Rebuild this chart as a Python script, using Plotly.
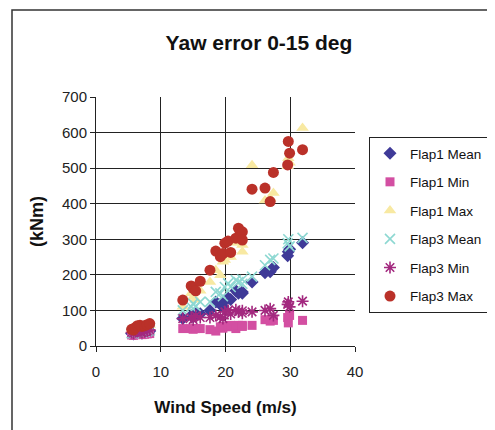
import plotly.graph_objects as go

wind = [5.5, 5.8, 6.1, 6.4, 6.8, 7.1, 7.5, 7.9, 8.3,
        13.4, 14.7, 15.0, 15.4, 16.1, 17.6, 18.5, 19.2, 19.6, 19.9, 20.4, 20.8,
        21.6, 22.0, 22.6, 22.6, 24.1, 26.1, 26.9, 27.4, 29.6, 29.7, 29.9, 31.9]

flap1_mean = [35, 34, 36, 38, 38, 36, 38, 40, 42,
              77, 86, 82, 91, 91, 100, 124, 117, 112, 129, 135, 131,
              155, 148, 152, 148, 180, 206, 209, 221, 254, 265, 272, 290]
flap1_min = [31, 30, 32, 33, 33, 32, 33, 34, 35,
             49, 49, 47, 49, 49, 46, 42, 54, 50, 55, 54, 58,
             49, 58, 58, 55, 58, 74, 70, 72, 80, 65, 86, 72]
flap1_max = [44, 42, 48, 52, 54, 50, 52, 55, 58,
             110, 148, 138, 130, 155, 180, 213, 199, 237, 242, 251, 250,
             291, 290, 284, 265, 508, 409, 415, 430, 505, 528, 515, 613]
flap3_mean = [36, 35, 38, 40, 40, 38, 40, 42, 44,
              100, 110, 119, 112, 124, 124, 152, 148, 140, 166, 176, 166,
              185, 180, 187, 175, 195, 227, 242, 246, 289, 300, 280, 304]
flap3_min = [38, 36, 40, 42, 40, 38, 40, 42, 45,
             77, 80, 74, 85, 80, 80, 86, 82, 77, 96, 100, 90,
             102, 96, 99, 92, 96, 100, 105, 86, 117, 124, 110, 126]
flap3_max = [47, 45, 52, 57, 58, 55, 57, 60, 63,
             129, 169, 162, 155, 182, 213, 267, 251, 260, 289, 295, 263,
             303, 331, 321, 298, 441, 444, 406, 488, 509, 575, 542, 552]

series = [
    ("Flap1 Mean", flap1_mean, dict(symbol="diamond", size=10, color="#3F3A98")),
    ("Flap1 Min", flap1_min, dict(symbol="square", size=9, color="#D34FA2")),
    ("Flap1 Max", flap1_max, dict(symbol="triangle-up", size=11, color="#F8E9A2")),
    ("Flap3 Mean", flap3_mean, dict(symbol="x-thin", size=10, color="#8ED8D2",
                                    line=dict(width=1.6, color="#8ED8D2"))),
    ("Flap3 Min", flap3_min, dict(symbol="asterisk", size=10, color="#A3297F",
                                  line=dict(width=1.6, color="#A3297F"))),
    ("Flap3 Max", flap3_max, dict(symbol="circle", size=11, color="#BA3129")),
]

fig = go.Figure()
for name, vals, mk in series:
    fig.add_trace(go.Scatter(x=wind, y=vals, mode="markers", name=name,
                             legendgroup=name, marker=mk))

# page body has an 8px margin, so figure coords = screen coords - 8
OFF = 8
W, H = 495 - OFF, 430 - OFF
L, T = 96 - OFF, 97 - OFF
PW, PH = 259, 249

font_family = "Liberation Sans, Arial, sans-serif"
fig.update_layout(
    width=W, height=H,
    margin=dict(l=L, r=W - L - PW, t=T, b=H - T - PH, autoexpand=False),
    paper_bgcolor="white", plot_bgcolor="white",
    font=dict(family=font_family, size=15, color="#222222"),
    title=dict(text="<b>Yaw error 0-15 deg</b>", x=(259 - OFF) / W, xanchor="center",
               y=1 - (43 - OFF) / H, yanchor="middle", yref="container",
               font=dict(size=21, color="#111111")),
    xaxis=dict(range=[0, 40], dtick=10, showgrid=True, gridcolor="#222222",
               gridwidth=1, zeroline=False, showline=True, linecolor="#222222",
               ticks="outside", ticklen=5, tickcolor="#222222",
               ticklabelstandoff=7,
               tickfont=dict(size=15, color="#222222"),
               title=dict(text="<b>Wind Speed (m/s)</b>", standoff=22,
                          font=dict(size=17, color="#111111"))),
    yaxis=dict(range=[0, 700], dtick=100, showgrid=True, gridcolor="#222222",
               gridwidth=1, zeroline=False, showline=True, linecolor="#222222",
               ticks="outside", ticklen=5, tickcolor="#222222",
               tickfont=dict(size=15, color="#222222"),
               title=dict(text="<b>(kNm)</b>", standoff=13,
                          font=dict(size=18, color="#111111"))),
    legend=dict(x=(369 - 96) / PW, y=(346 - 137) / PH, xanchor="left",
                yanchor="top", bordercolor="#222222", borderwidth=1,
                bgcolor="white", tracegroupgap=8, itemwidth=30,
                font=dict(size=13.5, color="#111111")),
    showlegend=True,
)

# outer chart frame
fig.add_shape(type="rect", xref="paper", yref="paper",
              x0=(12 - 96) / PW, x1=(505 - 96) / PW,
              y0=(346 - 445) / PH, y1=(346 - 10) / PH,
              line=dict(color="#333333", width=1.5), layer="below")

fig.write_html("out.html")
